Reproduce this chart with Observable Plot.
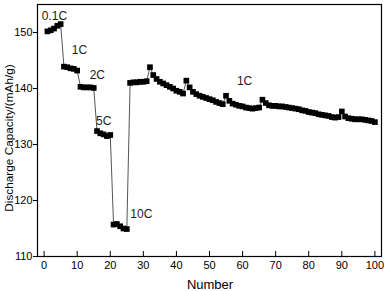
<!DOCTYPE html>
<html>
<head>
<meta charset="utf-8">
<script src="https://cdn.jsdelivr.net/npm/d3@7"></script>
<script src="https://cdn.jsdelivr.net/npm/@observablehq/plot@0.6"></script>
<style>
  html, body { margin: 0; padding: 0; background: #fff; }
  svg { display: block; }
</style>
</head>
<body>
<div id="chart"></div>
<script>
const cycles = d3.range(1, 101);
const capacity = [
  150.2, 150.4, 150.7, 151.2, 151.5,
  143.9, 143.8, 143.6, 143.5, 143.2,
  140.3, 140.2, 140.2, 140.2, 140.1,
  132.4, 132.0, 131.8, 131.5, 131.7,
  115.7, 115.8, 115.4, 115.0, 114.9,
  141.0, 141.1, 141.1, 141.2, 141.2, 141.3,
  143.8, 142.4, 141.7, 141.2, 140.9, 140.6, 140.3, 140.0, 139.6, 139.4, 139.1,
  141.4, 140.2, 139.4, 139.0, 138.7, 138.5, 138.3, 138.1, 137.9, 137.6, 137.4, 137.2,
  138.7, 137.8, 137.3, 137.1, 136.9, 136.8, 136.6, 136.5, 136.4, 136.5, 136.6,
  138.0, 137.4, 137.0, 136.9, 136.9, 136.8, 136.8, 136.7, 136.6, 136.5, 136.4, 136.3,
  136.1, 136.0, 135.8, 135.7, 135.6, 135.4, 135.3, 135.2, 135.1, 134.9, 134.8, 134.9,
  135.9, 135.0, 134.7, 134.6, 134.5, 134.5, 134.5, 134.4, 134.3, 134.2, 134.0
];
const rateLabels = ["0.1C", "1C", "2C", "5C", "10C", "1C"];
const rateLabelX = [3.1, 10.7, 16.1, 18.0, 29.4, 60.6];
const rateLabelY = [152.9, 146.8, 142.3, 134.2, 117.5, 141.25];
const xTicks = d3.range(0, 101, 10);
const yTicks = [110, 120, 130, 140, 150];

const data = cycles.map((c, i) => ({cycle: c, cap: capacity[i]}));
const labels = rateLabels.map((t, i) => ({t, x: rateLabelX[i], y: rateLabelY[i]}));

const font = "Liberation Sans, Arial, sans-serif";
const chart = Plot.plot({
  width: 385,
  height: 291,
  marginLeft: 37,
  marginRight: 4,
  marginTop: 4,
  marginBottom: 35,
  style: {fontFamily: font, fontSize: "11px", color: "#000", background: "#fff"},
  x: {domain: [-2, 102], label: null},
  y: {domain: [110, 155], label: null},
  marks: [
    Plot.axisX(xTicks, {tickSize: -5, tickFormat: () => "", label: null, stroke: "#000"}),
    Plot.axisX(xTicks, {tickSize: 0, tickPadding: 5, label: null, fontSize: 11, fill: "#000"}),
    Plot.axisY(yTicks, {tickSize: 4, tickPadding: 1, label: null, fontSize: 11, fill: "#000", stroke: "#000"}),
    Plot.frame({stroke: "#000", strokeWidth: 1.2}),
    Plot.line(data, {x: "cycle", y: "cap", stroke: "#555", strokeWidth: 1}),
    Plot.dot(data, {x: "cycle", y: "cap", symbol: "square", r: 3.2, fill: "#000", stroke: "none"}),
    Plot.text(labels, {x: "x", y: "y", text: "t", fontSize: 12, fill: "#222"})
  ]
});
const svg = d3.select(chart);
svg.append("text")
  .attr("x", 210).attr("y", 289)
  .attr("text-anchor", "middle")
  .attr("font-family", font).attr("font-size", 13).attr("fill", "#000")
  .text("Number");
svg.append("text")
  .attr("transform", "translate(13,138) rotate(-90)")
  .attr("text-anchor", "middle")
  .attr("font-family", font).attr("font-size", 11.8).attr("fill", "#000")
  .text("Discharge Capacity/(mAh/g)");
document.getElementById("chart").appendChild(chart);
</script>
</body>
</html>
